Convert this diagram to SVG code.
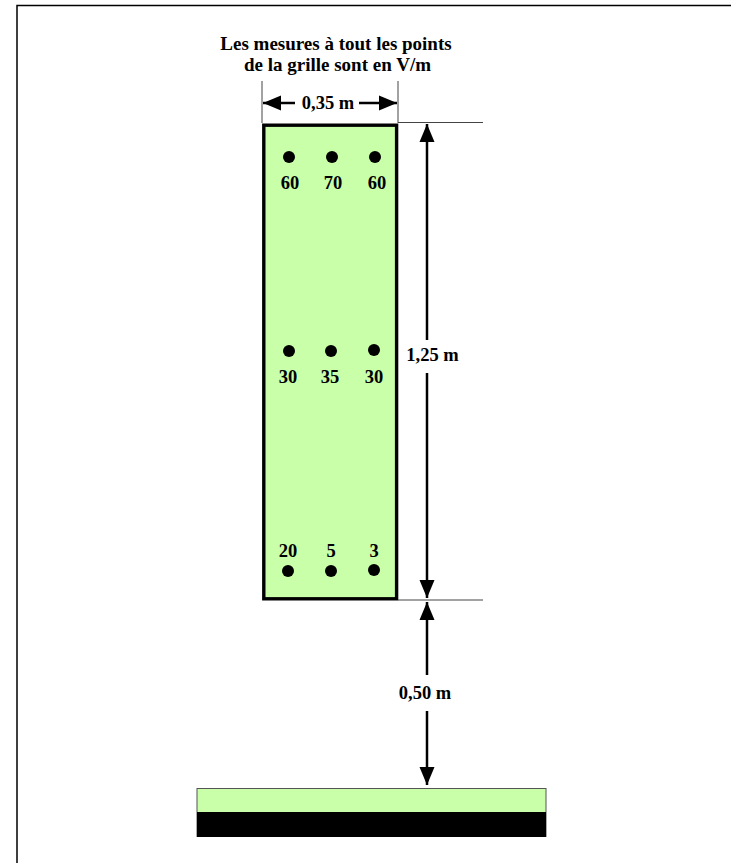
<svg xmlns="http://www.w3.org/2000/svg" width="731" height="863" viewBox="0 0 731 863">
<style>
text{font-family:"Liberation Serif","Times New Roman",serif;font-weight:bold;fill:#000;text-anchor:middle}
.t{font-size:19px}
.n{font-size:18.500px}
.d{fill:#000}
.thin{stroke:#444;stroke-width:1;fill:none}
.ar{stroke:#000;stroke-width:2.500;fill:none;marker-end:url(#a)}
</style>
<defs><marker id="a" markerUnits="userSpaceOnUse" markerWidth="18" markerHeight="16" refX="18" refY="8" orient="auto"><path d="M0 0.500L18 8L0 15.500z" fill="#000"/></marker></defs>
<rect width="731" height="863" fill="#fff"/>
<path d="M17 863V5.500H731" fill="none" stroke="#000" stroke-width="1.500"/>
<g id="title"><text class="t" x="336" y="50">Les mesures à tout les points</text><text class="t" x="337.500" y="71">de la grille sont en V/m</text></g>
<g id="panel"><rect x="263.800" y="125.200" width="132.800" height="473.600" fill="#c9ffa8" stroke="#000" stroke-width="3.400"/></g>
<g id="ground"><rect x="197" y="788.500" width="349" height="48" fill="#c9ffa8" stroke="#555" stroke-width="1"/><rect x="197" y="812" width="349" height="25" fill="#000"/></g>
<g id="connectors">
<path class="thin" d="M262 81V123M398 81V123M398 122.500H483M398 600H483"/>
<path class="ar" d="M295 103H263"/><path class="ar" d="M359 103H397"/>
<path class="ar" d="M427 340V124"/><path class="ar" d="M427 373V598"/>
<path class="ar" d="M427 675V602"/><path class="ar" d="M427 711V785"/>
</g>
<g id="labels"><text class="n" x="328" y="109">0,35 m</text><text class="n" x="432.500" y="361">1,25 m</text><text class="n" x="425" y="699">0,50 m</text></g>
<g id="p60a"><circle class="d" cx="289" cy="157" r="6"/><text class="n" x="290" y="188.500">60</text></g>
<g id="p70"><circle class="d" cx="332" cy="157" r="6"/><text class="n" x="333" y="188.500">70</text></g>
<g id="p60b"><circle class="d" cx="375" cy="157" r="6"/><text class="n" x="377" y="188.500">60</text></g>
<g id="p30a"><circle class="d" cx="289" cy="351" r="6"/><text class="n" x="288" y="382.500">30</text></g>
<g id="p35"><circle class="d" cx="331" cy="351" r="6"/><text class="n" x="330" y="382.500">35</text></g>
<g id="p30b"><circle class="d" cx="374" cy="350" r="6"/><text class="n" x="374" y="382.500">30</text></g>
<g id="p20"><circle class="d" cx="288" cy="571" r="6"/><text class="n" x="288" y="557">20</text></g>
<g id="p5"><circle class="d" cx="331" cy="571" r="6"/><text class="n" x="331" y="557">5</text></g>
<g id="p3"><circle class="d" cx="374" cy="570" r="6"/><text class="n" x="374" y="557">3</text></g>
</svg>
